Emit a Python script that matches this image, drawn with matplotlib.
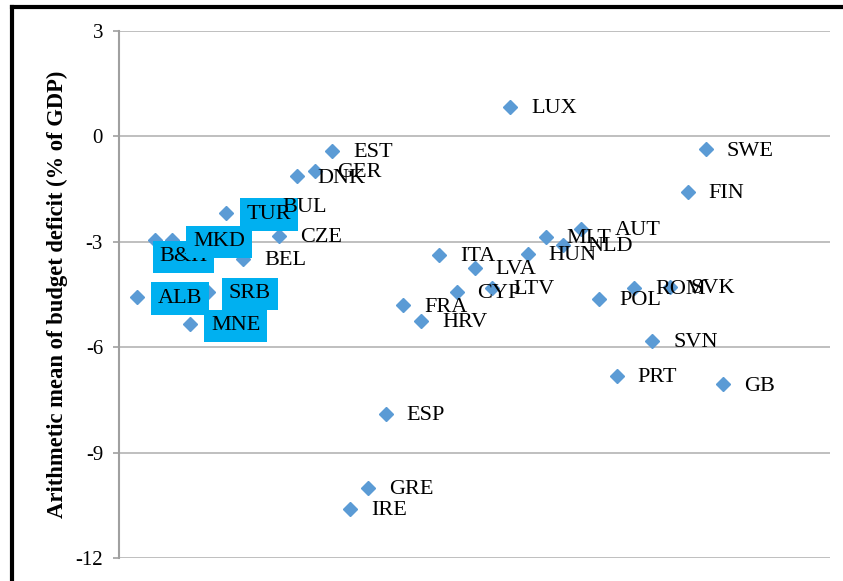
import matplotlib
matplotlib.use("Agg")
import matplotlib.pyplot as plt
from matplotlib.lines import Line2D

plt.rcParams['font.family'] = ['Liberation Serif', 'DejaVu Serif']
plt.rcParams['axes.unicode_minus'] = False

# countries in chart order, mean budget deficit (% of GDP)
countries = ["ALB", "B&H", "MKD", "MNE", "SRB", "TUR",
             "BEL", "BUL", "CZE", "DNK", "GER", "EST", "IRE", "GRE", "ESP",
             "FRA", "HRV", "ITA", "CYP", "LVA", "LTV", "LUX", "HUN", "MLT",
             "NLD", "AUT", "POL", "PRT", "ROM", "SVN", "SVK", "FIN", "SWE", "GB"]
deficit = [-4.57, -2.95, -2.95, -5.34, -4.43, -2.18,
           -3.49, -1.98, -2.83, -1.14, -0.98, -0.41, -10.61, -10.0, -7.90,
           -4.81, -5.25, -3.38, -4.43, -3.74, -4.31, 0.85, -3.35, -2.86,
           -3.09, -2.64, -4.63, -6.81, -4.32, -5.82, -4.28, -1.59, -0.37, -7.06]
# western balkans + turkey get highlighted labels
highlighted = ["ALB", "B&H", "MKD", "MNE", "SRB", "TUR"]
yticks = [3, 0, -3, -6, -9, -12]

xpos = list(range(1, len(countries) + 1))

# label nudges (points) where the labels were moved by hand
default_off = (15, -1.2)
label_off = {"B&H": (3.5, -12), "AUT": (24.5, -1), "NLD": (17, -1.2),
             "GER": (16.5, -1.2)}

fig = plt.figure(figsize=(8.43, 5.81), dpi=100)
ax = fig.add_axes([119/843, 1 - 558/581, (830 - 119)/843, (558 - 31)/581])

ax.plot(xpos, deficit, linestyle='none', marker='D', markersize=7.5,
        color='#5B9BD5', zorder=3)

# labels drawn in series order, later ones on top (like excel)
for x, y, name in zip(xpos, deficit, countries):
    off = label_off.get(name, default_off)
    box = None
    if name in highlighted:
        box = dict(boxstyle='square,pad=0.3', fc='#00B0F0', ec='none')
    ax.annotate(name, (x, y), xytext=off, textcoords='offset points',
                ha='left', va='center', fontsize=16, color='black',
                bbox=box, zorder=4)

ax.set_xlim(0, 40)
ax.set_ylim(-12, 3)
ax.set_yticks(yticks)
ax.set_yticklabels([str(t) for t in yticks])
ax.set_xticks([])
ax.tick_params(axis='y', length=4.5, width=1.2, color='#A0A0A0', pad=7,
               labelsize=15)
ax.grid(axis='y', color='#B4B4B4', linewidth=1.2)
ax.set_axisbelow(True)
for s in ['top', 'right', 'bottom']:
    ax.spines[s].set_visible(False)
ax.spines['left'].set_color('#A0A0A0')
ax.spines['left'].set_linewidth(1.5)

ax.set_ylabel("Arithmetic mean of budget deficit (% of GDP)", fontsize=16.3,
              fontweight='bold')
ax.yaxis.set_label_coords(-0.072, 0.5)

# black frame on the top and left edges
fig.add_artist(Line2D([12/843, 1], [1 - 7/581, 1 - 7/581],
                      transform=fig.transFigure, color='black', linewidth=3))
fig.add_artist(Line2D([12/843, 12/843], [0, 1 - 7/581],
                      transform=fig.transFigure, color='black', linewidth=3))

fig.savefig("out.png", dpi=100)
